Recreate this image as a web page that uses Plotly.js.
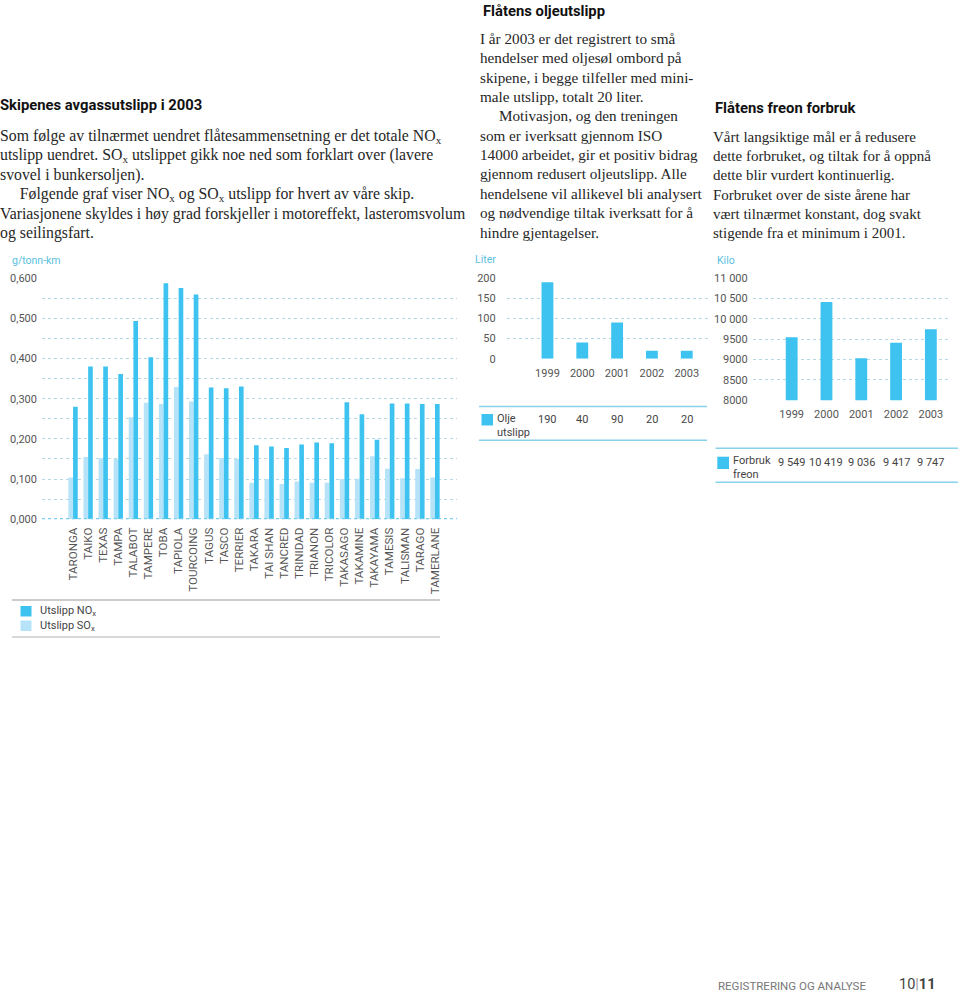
<!DOCTYPE html>
<html>
<head>
<meta charset="utf-8">
<script src="https://cdn.plot.ly/plotly-3.0.1.min.js"></script>
<style>
html,body{margin:0;padding:0;background:#fff;}
#chart{width:960px;height:992px;}
</style>
</head>
<body>
<div id="chart"></div>
<script>
// ---------- DATA ----------
const ships = ["TARONGA","TAIKO","TEXAS","TAMPA","TALABOT","TAMPERE","TOBA","TAPIOLA","TOURCOING","TAGUS","TASCO","TERRIER","TAKARA","TAI SHAN","TANCRED","TRINIDAD","TRIANON","TRICOLOR","TAKASAGO","TAKAMINE","TAKAYAMA","TAMESIS","TALISMAN","TARAGO","TAMERLANE"];
const noxValues = [0.280,0.380,0.380,0.361,0.493,0.403,0.587,0.575,0.559,0.328,0.326,0.330,0.184,0.181,0.177,0.186,0.191,0.189,0.291,0.261,0.198,0.288,0.288,0.287,0.287];
const soxValues = [0.104,0.155,0.152,0.150,0.254,0.290,0.287,0.329,0.293,0.162,0.152,0.150,0.091,0.100,0.088,0.094,0.091,0.091,0.100,0.101,0.157,0.126,0.102,0.125,0.104];

const years = ["1999","2000","2001","2002","2003"];
const oilValues = [190,40,90,20,20];
const oilLabels = ["190","40","90","20","20"];
const freonValues = [9549,10419,9036,9417,9747];
const freonLabels = ["9 549","10 419","9 036","9 417","9 747"];

const leftTickVals = [0,0.1,0.2,0.3,0.4,0.5,0.6];
const leftTickText = ["0,000","0,100","0,200","0,300","0,400","0,500","0,600"];
const oilTickVals = [0,50,100,150,200];
const oilTickText = ["0","50","100","150","200"];
const freonTickVals = [8000,8500,9000,9500,10000,10500,11000];
const freonTickText = ["8000","8500","9000","9500","10 000","10 500","11 000"];

const leftTitle = "Skipenes avgassutslipp i 2003";
const leftLines = [
 "Som følge av tilnærmet uendret flåtesammensetning er det totale NO<sub>x</sub>",
 "utslipp uendret. SO<sub>x</sub> utslippet gikk noe ned som forklart over (lavere",
 "svovel i bunkersoljen).",
 "\u00a0\u00a0\u00a0\u00a0\u00a0Følgende graf viser NO<sub>x</sub> og SO<sub>x</sub> utslipp for hvert av våre skip.",
 "Variasjonene skyldes i høy grad forskjeller i motoreffekt, lasteromsvolum",
 "og seilingsfart."
];
const midTitle = "Flåtens oljeutslipp";
const midLines = [
 "I år 2003 er det registrert to små",
 "hendelser med oljesøl ombord på",
 "skipene, i begge tilfeller med mini-",
 "male utslipp, totalt 20 liter.",
 "\u00a0\u00a0\u00a0\u00a0\u00a0Motivasjon, og den treningen",
 "som er iverksatt gjennom ISO",
 "14000 arbeidet, gir et positiv bidrag",
 "gjennom redusert oljeutslipp. Alle",
 "hendelsene vil allikevel bli analysert",
 "og nødvendige tiltak iverksatt for å",
 "hindre gjentagelser."
];
const rightTitle = "Flåtens freon forbruk";
const rightLines = [
 "Vårt langsiktige mål er å redusere",
 "dette forbruket, og tiltak for å oppnå",
 "dette blir vurdert kontinuerlig.",
 "Forbruket over de siste årene har",
 "vært tilnærmet konstant, dog svakt",
 "stigende fra et minimum i 2001."
];

// ---------- STYLE ----------
const W = 960, H = 992;
const px = x => x / W;
const py = y => 1 - y / H;
const C_NOX = "#3ec3f0";
const C_SOX = "#b6e3f7";
const C_GRID = "#b3d9e6";
const C_UNIT = "#5bbfe0";
const C_TICK = "#555555";
const SANS = "Roboto, 'Noto Sans', sans-serif";
const SERIF = "'Liberation Serif', 'DejaVu Serif', serif";
const tickFont = {family: SANS, size: 11, color: C_TICK};

const traces = [
 {type:"bar", x:ships, y:soxValues, name:"Utslipp SOx", marker:{color:C_SOX}, xaxis:"x", yaxis:"y", hoverinfo:"skip"},
 {type:"bar", x:ships, y:noxValues, name:"Utslipp NOx", marker:{color:C_NOX}, xaxis:"x", yaxis:"y", hoverinfo:"skip"},
 {type:"bar", x:years, y:oilValues, name:"Olje utslipp", marker:{color:C_NOX}, width:0.34, xaxis:"x2", yaxis:"y2", hoverinfo:"skip"},
 {type:"bar", x:years, y:freonValues, name:"Forbruk freon", marker:{color:C_NOX}, width:0.34, xaxis:"x3", yaxis:"y3", hoverinfo:"skip"}
];

const gridY = {showgrid:true, gridcolor:C_GRID, griddash:"dot", gridwidth:1, zeroline:false, showline:false, ticks:"", tickfont:tickFont, fixedrange:true};
const catX = {type:"category", showgrid:false, zeroline:false, showline:false, ticks:"", tickfont:tickFont, fixedrange:true};

const annotations = [];
function addText(x, y, text, font, anchor) {
  annotations.push({xref:"paper", yref:"paper", x:px(x), y:py(y), text:text, showarrow:false,
    xanchor:anchor || "left", yanchor:"middle", align:"left", borderpad:0, font:font});
}
const titleFont = {family: SANS, size: 14.8, color: "#111", weight: 700};
const bodyL = {family: SERIF, size: 15.8, color: "#262626"};
const bodyM = {family: SERIF, size: 15.2, color: "#262626"};
const bodyR = {family: SERIF, size: 15.0, color: "#262626"};

addText(-1, 105, "<b>" + leftTitle + "</b>", titleFont);
leftLines.forEach((t,i) => addText(-1, 136.7 + i*19.3, t, bodyL));
addText(482, 11, "<b>" + midTitle + "</b>", titleFont);
midLines.forEach((t,i) => addText(479, 38.5 + i*19.35, t, bodyM));
addText(714, 108, "<b>" + rightTitle + "</b>", titleFont);
rightLines.forEach((t,i) => addText(712, 136.7 + i*19.3, t, bodyR));

// unit labels
const unitFont = {family: SANS, size: 10.5, color: C_UNIT};
addText(11, 260, "g/tonn-km", unitFont);
addText(474, 259, "Liter", unitFont);
addText(716, 260, "Kilo", unitFont);

// legends
const legFont = {family: SANS, size: 11, color: "#444"};
addText(39, 611, "Utslipp NO<sub>x</sub>", legFont);
addText(39, 626, "Utslipp SO<sub>x</sub>", legFont);
addText(496, 425, "Olje<br>utslipp", legFont);
addText(732, 467.5, "Forbruk<br>freon", legFont);
years.forEach((yr,i) => {
  annotations.push({xref:"x2", yref:"paper", x:i, y:py(420), text:oilLabels[i], showarrow:false, xanchor:"center", yanchor:"middle", borderpad:0, font:legFont});
  annotations.push({xref:"x3", yref:"paper", x:i, y:py(462), text:freonLabels[i], showarrow:false, xanchor:"center", yanchor:"middle", borderpad:0, font:legFont});
});

// footer
addText(717, 986, "REGISTRERING OG ANALYSE", {family: SANS, size: 11.5, color: "#777"});
addText(898, 984, "10<span style='color:#999'>|</span><b>11</b>", {family: SANS, size: 14.5, color: "#444"});

const shapes = [
 // left chart baseline
 {type:"line", xref:"paper", yref:"y", x0:px(42), x1:px(457), y0:0, y1:0, line:{color:"#79cdee", width:2.5, dash:"dot"}},
 // left legend rules
 {type:"line", xref:"paper", yref:"paper", x0:px(12), x1:px(440), y0:py(600), y1:py(600), line:{color:"#cccccc", width:2}},
 {type:"line", xref:"paper", yref:"paper", x0:px(12), x1:px(440), y0:py(637), y1:py(637), line:{color:"#cccccc", width:1.5}},
 {type:"rect", xref:"paper", yref:"paper", x0:px(20.5), x1:px(31.5), y0:py(606), y1:py(616.5), fillcolor:C_NOX, line:{width:0}},
 {type:"rect", xref:"paper", yref:"paper", x0:px(20.5), x1:px(31.5), y0:py(620.5), y1:py(631), fillcolor:C_SOX, line:{width:0}},
 // middle legend rules
 {type:"line", xref:"paper", yref:"paper", x0:px(479), x1:px(707), y0:py(406.5), y1:py(406.5), line:{color:"#88d2ec", width:1.5}},
 {type:"line", xref:"paper", yref:"paper", x0:px(479), x1:px(707), y0:py(440.3), y1:py(440.3), line:{color:"#88d2ec", width:1.5}},
 {type:"rect", xref:"paper", yref:"paper", x0:px(481.5), x1:px(493), y0:py(414), y1:py(425.5), fillcolor:C_NOX, line:{width:0}},
 // right legend rules
 {type:"line", xref:"paper", yref:"paper", x0:px(715.5), x1:px(958), y0:py(448.3), y1:py(448.3), line:{color:"#88d2ec", width:1.5}},
 {type:"line", xref:"paper", yref:"paper", x0:px(715.5), x1:px(958), y0:py(482.3), y1:py(482.3), line:{color:"#88d2ec", width:1.5}},
 {type:"rect", xref:"paper", yref:"paper", x0:px(717.3), x1:px(729), y0:py(456.7), y1:py(469), fillcolor:C_NOX, line:{width:0}}
];

const layout = {
  width: W, height: H,
  margin: {l:0, r:0, t:0, b:0},
  paper_bgcolor: "#fff", plot_bgcolor: "rgba(0,0,0,0)",
  showlegend: false,
  barmode: "group", bargap: 0.38, bargroupgap: 0,
  separators: ", ",
  font: {family: SANS, color: C_TICK},
  xaxis: Object.assign({}, catX, {domain:[px(42), px(457)], range:[-2.06, 25.46], tickangle:-90, ticklabelstandoff:5, anchor:"y",
          tickfont:{family: SANS, size: 11.6, color: C_TICK}}),
  yaxis: Object.assign({}, gridY, {domain:[py(519.3), py(278)], range:[0,0.6], tickmode:"array", tickvals:leftTickVals, ticktext:leftTickText,
          ticklabelstandoff:4, minor:{dtick:0.05, tick0:0, showgrid:true, gridcolor:C_GRID, griddash:"dot", gridwidth:1, ticks:""}, anchor:"x"}),
  xaxis2: Object.assign({}, catX, {domain:[px(506.7), px(708)], range:[-1.17, 4.61], ticklabelstandoff:6, anchor:"y2"}),
  yaxis2: Object.assign({}, gridY, {domain:[py(358.7), py(278.3)], range:[0,200], tickmode:"array", tickvals:oilTickVals, ticktext:oilTickText,
          ticklabelstandoff:10, anchor:"x2"}),
  xaxis3: Object.assign({}, catX, {domain:[px(752.7), px(950.7)], range:[-1.12, 4.57], ticklabelstandoff:6, anchor:"y3"}),
  yaxis3: Object.assign({}, gridY, {domain:[py(400.3), py(278.3)], range:[8000,11000], tickmode:"array", tickvals:freonTickVals, ticktext:freonTickText,
          ticklabelstandoff:4, anchor:"x3"}),
  annotations: annotations,
  shapes: shapes
};

Plotly.newPlot("chart", traces, layout, {staticPlot:true, displayModeBar:false});
</script>
</body>
</html>
